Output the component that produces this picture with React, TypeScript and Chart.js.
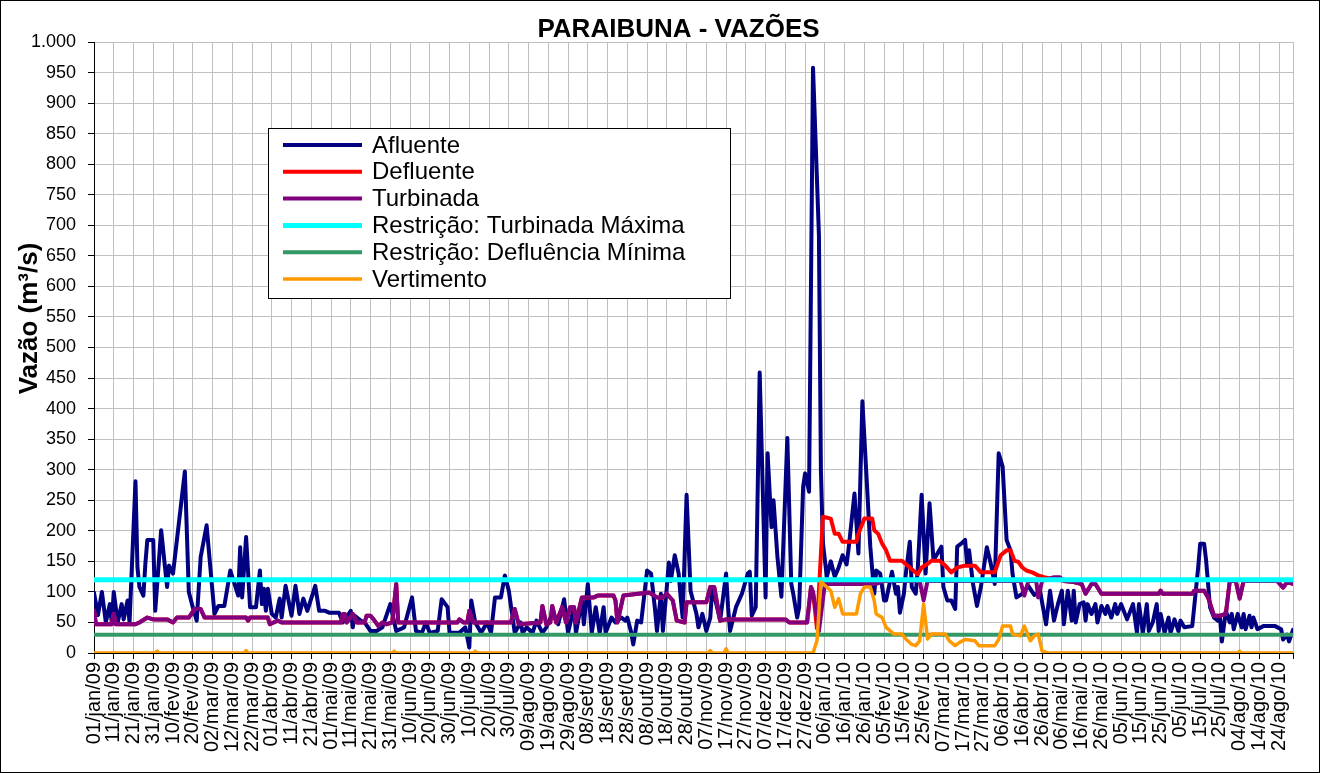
import { useEffect, useRef } from 'react';
import { Chart, registerables } from 'chart.js';

Chart.register(...registerables);

const FONT = '"Liberation Sans", Arial, Helvetica, sans-serif';

const TITLE = 'PARAIBUNA - VAZÕES';
const Y_TITLE = 'Vazão (m³/s)';

// x axis: day index counted from 01/jan/09 (one tick label every 10 days)
const X_MAX_DAY = 607;
const TICK_LABELS = [
  '01/jan/09', '11/jan/09', '21/jan/09', '31/jan/09', '10/fev/09', '20/fev/09', '02/mar/09', '12/mar/09',
  '22/mar/09', '01/abr/09', '11/abr/09', '21/abr/09', '01/mai/09', '11/mai/09', '21/mai/09', '31/mai/09',
  '10/jun/09', '20/jun/09', '30/jun/09', '10/jul/09', '20/jul/09', '30/jul/09', '09/ago/09', '19/ago/09',
  '29/ago/09', '08/set/09', '18/set/09', '28/set/09', '08/out/09', '18/out/09', '28/out/09', '07/nov/09',
  '17/nov/09', '27/nov/09', '07/dez/09', '17/dez/09', '27/dez/09', '06/jan/10', '16/jan/10', '26/jan/10',
  '05/fev/10', '15/fev/10', '25/fev/10', '07/mar/10', '17/mar/10', '27/mar/10', '06/abr/10', '16/abr/10',
  '26/abr/10', '06/mai/10', '16/mai/10', '26/mai/10', '05/jun/10', '15/jun/10', '25/jun/10', '05/jul/10',
  '15/jul/10', '25/jul/10', '04/ago/10', '14/ago/10', '24/ago/10',
];

// [day, m³/s]
const AFLUENTE = [
  [0, 99], [2, 62], [4, 100], [6, 50], [8, 80], [9, 50], [10, 100], [12, 50], [14, 80], [15, 55], [17, 86], [18, 50],
  [21, 281], [22, 140], [23, 108], [25, 94], [26, 146], [27, 185], [30, 185], [31, 69], [34, 201], [37, 108], [38, 143],
  [40, 130], [46, 297], [48, 100], [50, 75], [52, 53], [54, 157], [57, 209], [61, 64], [63, 77], [66, 77], [69, 135],
  [73, 94], [74, 173], [75, 91], [77, 190], [79, 75], [82, 75], [84, 135], [85, 80], [86, 105], [87, 69], [88, 105],
  [90, 64], [92, 58], [94, 89], [95, 58], [97, 110], [100, 61], [102, 110], [104, 64], [106, 89], [108, 69], [112, 110],
  [114, 69], [117, 69], [119, 66], [124, 66], [126, 50], [130, 69], [131, 42], [132, 61], [135, 53], [137, 50], [140, 36],
  [143, 36], [146, 42], [150, 80], [153, 36], [157, 42], [161, 91], [163, 36], [166, 33], [168, 50], [170, 33], [174, 36],
  [176, 88], [179, 75], [180, 33], [185, 33], [188, 42], [190, 9], [191, 86], [193, 50], [196, 33], [199, 50], [201, 33],
  [203, 91], [206, 91], [208, 127], [210, 102], [213, 33], [216, 50], [217, 33], [219, 42], [222, 33], [224, 53], [227, 33],
  [229, 42], [232, 64], [235, 47], [238, 88], [240, 33], [243, 75], [244, 33], [247, 86], [248, 47], [250, 113], [252, 33],
  [254, 75], [256, 33], [258, 75], [259, 33], [262, 58], [264, 50], [267, 58], [269, 53], [270, 58], [272, 33], [273, 14],
  [275, 53], [277, 50], [280, 135], [282, 130], [284, 72], [285, 36], [287, 97], [288, 36], [290, 108], [291, 148],
  [292, 118], [294, 160], [296, 130], [297, 91], [298, 58], [300, 259], [302, 102], [305, 64], [306, 42], [308, 64],
  [310, 36], [312, 58], [313, 108], [317, 53], [320, 130], [321, 75], [322, 36], [325, 75], [328, 97], [331, 130],
  [332, 133], [333, 61], [335, 75], [337, 459], [340, 91], [341, 327], [343, 206], [344, 250], [346, 157], [348, 92],
  [351, 352], [353, 113], [354, 97], [356, 58], [357, 75], [359, 272], [360, 294], [362, 264], [364, 958], [367, 684],
  [368, 300], [369, 180], [371, 125], [373, 150], [375, 125], [377, 140], [379, 160], [381, 145], [382, 170], [385, 261],
  [387, 163], [389, 412], [391, 294], [393, 174], [395, 97], [396, 135], [398, 130], [400, 86], [401, 86], [404, 133],
  [406, 97], [407, 108], [408, 66], [410, 97], [411, 130], [413, 182], [414, 108], [416, 97], [417, 136], [419, 259],
  [421, 130], [423, 245], [425, 152], [427, 163], [429, 174], [430, 108], [432, 86], [434, 86], [436, 72], [437, 174],
  [439, 179], [441, 185], [442, 146], [443, 168], [445, 113], [447, 77], [449, 108], [452, 173], [454, 146], [456, 113],
  [458, 327], [460, 305], [462, 185], [464, 168], [465, 130], [467, 91], [470, 97], [473, 110], [476, 95], [479, 100],
  [482, 47], [484, 102], [486, 53], [488, 80], [490, 102], [491, 47], [493, 102], [495, 53], [496, 102], [497, 50],
  [499, 80], [501, 83], [502, 53], [503, 80], [505, 64], [507, 80], [508, 50], [510, 77], [512, 64], [513, 77], [515, 58],
  [517, 80], [518, 64], [520, 80], [523, 55], [526, 80], [528, 33], [529, 80], [531, 33], [533, 80], [534, 36], [536, 50],
  [538, 80], [539, 36], [540, 64], [542, 33], [544, 58], [545, 33], [547, 55], [549, 36], [550, 53], [552, 42], [556, 44],
  [559, 140], [560, 179], [562, 179], [563, 152], [565, 75], [567, 58], [569, 53], [570, 60], [571, 19], [573, 69],
  [575, 50], [576, 64], [577, 39], [579, 64], [581, 42], [582, 64], [583, 39], [585, 61], [586, 42], [587, 58], [589, 39],
  [592, 44], [598, 44], [601, 39], [602, 22], [604, 30], [605, 19], [607, 38],
];

const TURBINADA = [
  [0, 69], [1, 47], [9, 47], [10, 64], [11, 47], [21, 47], [23, 50], [27, 58], [30, 55], [37, 55], [40, 50], [42, 58],
  [48, 58], [51, 72], [54, 72], [56, 58], [77, 58], [78, 53], [79, 58], [88, 58], [89, 47], [93, 53], [95, 50], [125, 50],
  [126, 64], [127, 64], [128, 50], [131, 64], [133, 50], [137, 50], [138, 61], [140, 61], [142, 53], [144, 44], [146, 50],
  [148, 47], [151, 50], [153, 113], [154, 50], [184, 50], [185, 55], [187, 50], [189, 50], [190, 69], [192, 50], [211, 50],
  [213, 72], [215, 47], [226, 50], [227, 77], [229, 47], [231, 50], [232, 77], [234, 50], [237, 75], [239, 50], [241, 75],
  [243, 75], [244, 50], [247, 91], [253, 91], [255, 94], [263, 94], [264, 86], [265, 50], [268, 94], [281, 99], [285, 91],
  [288, 91], [290, 97], [293, 86], [295, 53], [299, 50], [300, 83], [310, 83], [312, 108], [314, 108], [317, 53], [320, 55],
  [350, 55], [352, 50], [361, 50], [363, 108], [364, 100], [367, 36], [370, 113], [396, 113], [400, 118], [418, 118],
  [420, 86], [422, 118], [469, 118], [471, 94], [473, 118], [477, 118], [478, 91], [480, 118], [486, 124], [489, 124],
  [491, 118], [496, 116], [500, 113], [502, 97], [505, 113], [507, 113], [510, 97], [539, 97], [540, 102], [541, 97],
  [556, 97], [557, 102], [562, 102], [564, 91], [567, 61], [570, 61], [573, 64], [575, 118], [578, 118], [580, 89],
  [582, 118], [599, 118], [602, 107], [604, 116], [607, 113],
];

// Defluente differs from Turbinada only while there is spillage
const DEFLUENTE_SPILL_PERIOD = [
  [363, 108], [364, 100], [366, 40], [369, 223], [373, 220], [375, 195], [377, 195], [379, 182], [386, 182], [387, 195],
  [390, 220], [394, 220], [395, 201], [397, 195], [399, 179], [401, 168], [403, 151], [409, 151], [413, 140], [417, 129],
  [419, 140], [422, 146], [424, 151], [428, 151], [431, 143], [434, 132], [437, 140], [441, 143], [446, 143], [449, 132],
  [456, 132], [459, 160], [462, 168], [464, 168], [466, 151], [468, 149], [470, 140], [472, 135], [475, 132], [478, 127],
  [481, 124], [485, 121], [488, 120], [491, 118],
];

const VERTIMENTO = [
  [0, 0], [31, 0], [32, 3], [33, 0], [76, 0], [77, 4], [78, 0], [151, 0], [152, 3], [153, 0], [192, 0], [193, 3], [194, 0],
  [311, 0], [312, 4], [313, 0], [319, 0], [320, 7], [321, 0], [364, 0], [366, 20], [368, 116], [371, 108], [373, 102],
  [375, 75], [377, 89], [379, 64], [386, 64], [388, 97], [390, 108], [393, 108], [395, 86], [396, 64], [399, 58], [401, 42],
  [405, 31], [409, 31], [411, 23], [414, 14], [416, 12], [418, 20], [420, 80], [422, 23], [424, 31], [431, 31], [433, 20],
  [436, 12], [438, 17], [441, 22], [446, 20], [448, 12], [456, 12], [458, 22], [460, 44], [464, 44], [465, 31], [469, 28],
  [471, 44], [474, 20], [476, 28], [478, 31], [480, 3], [483, 0], [579, 0], [580, 3], [581, 0], [607, 0],
];

const RESTRICAO_TURBINADA_MAXIMA = 120;
const RESTRICAO_DEFLUENCIA_MINIMA = 30;

const SERIES_NAMES = [
  'Afluente', 'Defluente', 'Turbinada', 'Restrição: Turbinada Máxima', 'Restrição: Defluência Mínima', 'Vertimento',
];
const SERIES_COLORS = ['#000080', '#FF0000', '#800080', '#00FFFF', '#339966', '#FF9900'];
const SERIES_WIDTHS = [4, 4, 4, 5, 4, 3.5];

const toPoints = (arr: number[][]) => arr.map(([x, y]) => ({ x, y }));

function buildDefluente() {
  const first = DEFLUENTE_SPILL_PERIOD[0][0];
  const last = DEFLUENTE_SPILL_PERIOD[DEFLUENTE_SPILL_PERIOD.length - 1][0];
  const merged = [
    ...TURBINADA.filter(([d]) => d < first),
    ...DEFLUENTE_SPILL_PERIOD,
    ...TURBINADA.filter(([d]) => d > last),
  ];
  return toPoints(merged);
}

const decorPlugin = {
  id: 'decor',
  beforeDraw(chart: any) {
    const ctx = chart.ctx;
    ctx.save();
    ctx.fillStyle = '#ffffff';
    ctx.fillRect(0, 0, chart.width, chart.height);
    ctx.restore();
  },
  afterDraw(chart: any) {
    const ctx = chart.ctx;
    const a = chart.chartArea;
    ctx.save();
    // title
    ctx.fillStyle = '#000';
    ctx.font = `bold 26px ${FONT}`;
    ctx.textAlign = 'center';
    ctx.textBaseline = 'middle';
    ctx.fillText(TITLE, (a.left + a.right) / 2 - 15, 30);

    // y axis title
    ctx.save();
    ctx.translate(30, (a.top + a.bottom) / 2 - 29);
    ctx.rotate(-Math.PI / 2);
    ctx.font = `bold 26px ${FONT}`;
    ctx.textAlign = 'center';
    ctx.textBaseline = 'middle';
    ctx.fillText(Y_TITLE, 0, 0);
    ctx.restore();

    // legend box
    const bx = a.left + 174;
    const by = a.top + 86;
    const bw = 462;
    const bh = 170;
    ctx.fillStyle = '#ffffff';
    ctx.fillRect(bx, by, bw, bh);
    ctx.strokeStyle = '#000';
    ctx.lineWidth = 1;
    ctx.strokeRect(bx + 0.5, by + 0.5, bw, bh);
    ctx.font = `24px ${FONT}`;
    ctx.textAlign = 'left';
    ctx.textBaseline = 'middle';
    SERIES_NAMES.forEach((name, i) => {
      const yy = by + 17 + i * 26.8;
      ctx.strokeStyle = SERIES_COLORS[i];
      ctx.lineWidth = SERIES_WIDTHS[i];
      ctx.lineCap = 'butt';
      ctx.beginPath();
      ctx.moveTo(bx + 15, yy);
      ctx.lineTo(bx + 94, yy);
      ctx.stroke();
      ctx.fillStyle = '#000';
      ctx.fillText(name, bx + 104, yy + 1);
    });

    // outer frame
    ctx.strokeStyle = '#000';
    ctx.lineWidth = 1;
    ctx.strokeRect(0.5, 0.5, chart.width - 1, chart.height - 1);
    ctx.restore();
  },
};

export default function App() {
  const ref = useRef<HTMLCanvasElement>(null);

  useEffect(() => {
    document.body.style.margin = '0';
    const canvas = ref.current;
    if (!canvas) return;

    const lineDs = (i: number, data: any[], order: number) => ({
      label: SERIES_NAMES[i],
      data,
      borderColor: SERIES_COLORS[i],
      backgroundColor: SERIES_COLORS[i],
      borderWidth: SERIES_WIDTHS[i],
      pointRadius: 0,
      fill: false,
      tension: 0,
      borderJoinStyle: 'round',
      borderCapStyle: 'round',
      order,
    });

    const tickDays = TICK_LABELS.map((_, i) => i * 10).concat([X_MAX_DAY]);

    const chart = new Chart(canvas, {
      type: 'line',
      data: {
        datasets: [
          lineDs(0, toPoints(AFLUENTE), 6),
          lineDs(1, buildDefluente(), 5),
          lineDs(2, toPoints(TURBINADA), 4),
          lineDs(3, toPoints([[0, RESTRICAO_TURBINADA_MAXIMA], [X_MAX_DAY, RESTRICAO_TURBINADA_MAXIMA]]), 3),
          lineDs(4, toPoints([[0, RESTRICAO_DEFLUENCIA_MINIMA], [X_MAX_DAY, RESTRICAO_DEFLUENCIA_MINIMA]]), 2),
          lineDs(5, toPoints(VERTIMENTO), 1),
        ] as any,
      },
      options: {
        responsive: false,
        animation: false,
        devicePixelRatio: 1,
        layout: { padding: { top: 42, right: 25, left: 0, bottom: 0 } },
        plugins: {
          legend: { display: false },
          title: { display: false },
          tooltip: { enabled: false },
        },
        events: [],
        scales: {
          x: {
            type: 'linear',
            min: 0,
            max: X_MAX_DAY,
            afterFit: (s: any) => { s.height = 120; },
            afterBuildTicks: (s: any) => { s.ticks = tickDays.map((v) => ({ value: v })); },
            ticks: {
              autoSkip: false,
              minRotation: 90,
              maxRotation: 90,
              padding: 3,
              color: '#000',
              font: { family: FONT, size: 20 },
              callback: (v: any) => (v % 10 === 0 && v / 10 < TICK_LABELS.length ? TICK_LABELS[v / 10] : ''),
            },
            grid: { color: '#c0c0c0', lineWidth: 1, tickColor: '#000', tickLength: 6, tickWidth: 1 },
            border: { color: '#000', width: 1 },
          },
          y: {
            min: 0,
            max: 1000,
            afterFit: (s: any) => { s.width = 94; },
            ticks: {
              stepSize: 50,
              padding: 12,
              color: '#000',
              font: { family: FONT, size: 18 },
              callback: (v: any) => (v >= 1000 ? '1.000' : String(v)),
            },
            grid: { color: '#c0c0c0', lineWidth: 1, tickColor: '#000', tickLength: 6, tickWidth: 1 },
            border: { color: '#000', width: 1 },
            title: { display: false },
          },
        },
      } as any,
      plugins: [decorPlugin],
    });

    return () => chart.destroy();
  }, []);

  return (
    <canvas
      ref={ref}
      width={1320}
      height={773}
      style={{ display: 'block', width: 1320, height: 773 }}
    />
  );
}
